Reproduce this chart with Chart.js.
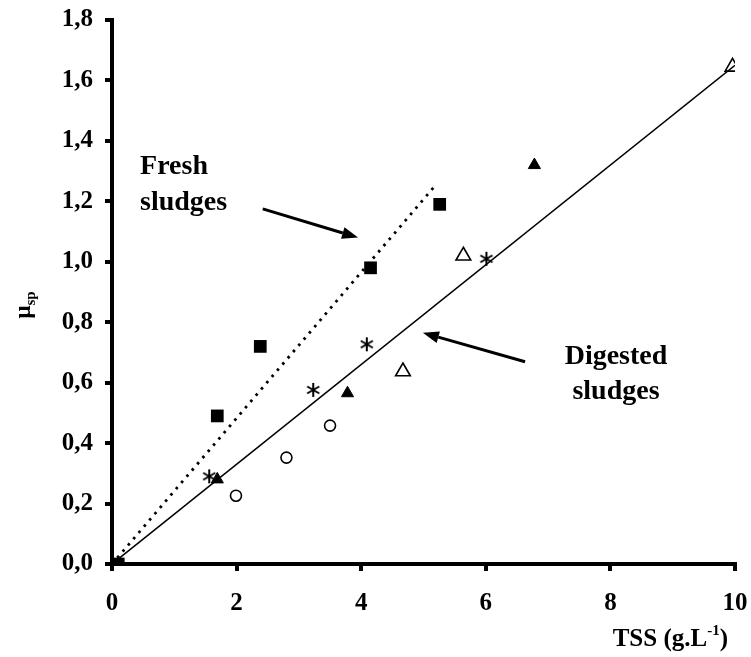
<!DOCTYPE html>
<html>
<head>
<meta charset="UTF-8">
<title>Specific viscosity vs TSS</title>
<style>
  html, body { margin:0; padding:0; background:#fff; }
  #wrap { width:751px; height:657px; }
</style>
<script src="https://cdn.jsdelivr.net/npm/chart.js"></script>
</head>
<body>
<div id="wrap"><canvas id="c" width="751" height="657"></canvas></div>
<script>
// values
const freshX = [0.1, 1.69, 2.38, 4.15, 5.26];
const freshY = [0.0, 0.49, 0.72, 0.98, 1.19];
const starX = [1.56, 3.23, 4.09, 6.01];
const starY = [0.29, 0.576, 0.727, 1.01];
const triFX = [0.1, 1.69, 3.78, 6.78];
const triFY = [0.0, 0.28, 0.565, 1.32];
const circX = [1.99, 2.80, 3.50];
const circY = [0.226, 0.352, 0.458];
const triOX = [4.67, 5.64, 9.96];
const triOY = [0.637, 1.02, 1.645];
const freshFitX = [0, 5.2];
const freshFitY = [0, 1.255];
const digFitX = [0, 10];
const digFitY = [0, 1.65];
const xTicks = [0, 2, 4, 6, 8, 10];
const yTicks = [0, 0.2, 0.4, 0.6, 0.8, 1.0, 1.2, 1.4, 1.6, 1.8];

const pts = (xs, ys) => xs.map((x, i) => ({ x, y: ys[i] }));
const serif = '"Liberation Serif", "DejaVu Serif", serif';

// six-armed asterisk marker
function makeStar() {
  const s = document.createElement('canvas');
  s.width = 18; s.height = 18;
  const g = s.getContext('2d');
  g.strokeStyle = '#000'; g.lineWidth = 2;
  const r = 7;
  for (const a of [90, 30, -30]) {
    const t = a * Math.PI / 180;
    g.beginPath();
    g.moveTo(9 - r * Math.cos(t), 9 - r * Math.sin(t));
    g.lineTo(9 + r * Math.cos(t), 9 + r * Math.sin(t));
    g.stroke();
  }
  return s;
}

function arrow(ctx, x1, y1, x2, y2) {
  const ang = Math.atan2(y2 - y1, x2 - x1);
  const hl = 16, hw = 6;
  const bx = x2 - hl * Math.cos(ang), by = y2 - hl * Math.sin(ang);
  ctx.lineWidth = 3;
  ctx.beginPath(); ctx.moveTo(x1, y1); ctx.lineTo(bx, by); ctx.stroke();
  ctx.beginPath();
  ctx.moveTo(x2, y2);
  ctx.lineTo(bx + hw * Math.sin(ang), by - hw * Math.cos(ang));
  ctx.lineTo(bx - hw * Math.sin(ang), by + hw * Math.cos(ang));
  ctx.closePath(); ctx.fill();
}

const notes = {
  id: 'notes',
  afterDraw(chart) {
    const { ctx, scales: { x, y } } = chart;
    const px = v => x.getPixelForValue(v), py = v => y.getPixelForValue(v);
    ctx.save();
    ctx.fillStyle = '#000'; ctx.strokeStyle = '#000';
    ctx.font = 'bold 28px ' + serif;
    ctx.textBaseline = 'middle';
    ctx.textAlign = 'left';
    ctx.fillText('Fresh', px(0.45), py(1.315));
    ctx.fillText('sludges', px(0.45), py(1.195));
    ctx.textAlign = 'center';
    ctx.fillText('Digested', px(8.09), py(0.685));
    ctx.fillText('sludges', px(8.09), py(0.57));
    arrow(ctx, px(2.42), py(1.175), px(3.95), py(1.08));
    arrow(ctx, px(6.63), py(0.669), px(4.99), py(0.765));

    // x title with superscript
    ctx.textAlign = 'left';
    ctx.textBaseline = 'alphabetic';
    const a = 'TSS (g.L', sup = '-1', b = ')';
    ctx.font = 'bold 25px ' + serif;
    const wa = ctx.measureText(a).width;
    ctx.font = 'bold 15px ' + serif;
    const ws = ctx.measureText(sup).width;
    ctx.font = 'bold 25px ' + serif;
    const wb = ctx.measureText(b).width;
    let sx = 728 - (wa + ws + wb), base = 646;
    ctx.fillText(a, sx, base);
    ctx.font = 'bold 15px ' + serif;
    ctx.fillText(sup, sx + wa, base - 11);
    ctx.font = 'bold 25px ' + serif;
    ctx.fillText(b, sx + wa + ws, base);

    // y title, rotated
    ctx.translate(30, 305);
    ctx.rotate(-Math.PI / 2);
    ctx.font = 'bold 23px ' + serif;
    const wm = ctx.measureText('\u03bc').width;
    ctx.font = 'bold 15px ' + serif;
    const wsp = ctx.measureText('sp').width;
    const st = -(wm + wsp) / 2;
    ctx.font = 'bold 23px ' + serif;
    ctx.fillText('\u03bc', st, 0);
    ctx.font = 'bold 15px ' + serif;
    ctx.fillText('sp', st + wm, 5);
    ctx.restore();
  }
};

const axisTick = { display: true, drawOnChartArea: false, drawTicks: true, tickLength: 7, lineWidth: 4, color: '#000' };

new Chart(document.getElementById('c'), {
  type: 'scatter',
  data: {
    datasets: [
      { label: 'fresh fit', type: 'line', data: pts(freshFitX, freshFitY), borderColor: '#000', borderWidth: 2.8, borderDash: [2.6, 5.6], pointRadius: 0, fill: false },
      { label: 'digested fit', type: 'line', data: pts(digFitX, digFitY), borderColor: '#000', borderWidth: 1.6, pointRadius: 0, fill: false },
      { label: 'fresh', data: pts(freshX, freshY), pointStyle: 'rect', pointRadius: 9, backgroundColor: '#000', borderColor: '#000', borderWidth: 0 },
      { label: 'star', data: pts(starX, starY), pointStyle: makeStar(), pointRadius: 9 },
      { label: 'tri filled', data: pts(triFX, triFY), pointStyle: 'triangle', pointRadius: 7, backgroundColor: '#000', borderColor: '#000', borderWidth: 1 },
      { label: 'circle', data: pts(circX, circY), pointStyle: 'circle', pointRadius: 5.5, backgroundColor: '#fff', borderColor: '#000', borderWidth: 1.6 },
      { label: 'tri open', data: pts(triOX, triOY), pointStyle: 'triangle', pointRadius: 8.5, backgroundColor: 'rgba(255,255,255,0)', borderColor: '#000', borderWidth: 1.6 }
    ]
  },
  options: {
    responsive: false,
    animation: false,
    events: [],
    layout: { padding: { top: 20, right: 16, left: 0, bottom: 0 } },
    plugins: { legend: { display: false }, tooltip: { enabled: false } },
    scales: {
      x: {
        type: 'linear', min: 0, max: 10,
        afterBuildTicks: s => { s.ticks = xTicks.map(v => ({ value: v })); },
        afterFit: s => { s.height = 93; s.paddingLeft = 0; s.paddingRight = 0; },
        grid: axisTick,
        border: { display: true, color: '#000', width: 4 },
        ticks: { color: '#000', padding: 18, font: { family: serif, size: 25, weight: 'bold' }, maxRotation: 0 }
      },
      y: {
        type: 'linear', min: 0, max: 1.8,
        afterBuildTicks: s => { s.ticks = yTicks.map(v => ({ value: v })); },
        afterFit: s => { s.width = 112; s.paddingTop = 0; s.paddingBottom = 0; },
        grid: axisTick,
        border: { display: true, color: '#000', width: 4 },
        ticks: { color: '#000', padding: 12, font: { family: serif, size: 25, weight: 'bold' }, callback: v => v.toFixed(1).replace('.', ',') }
      }
    }
  },
  plugins: [notes]
});
</script>
</body>
</html>
